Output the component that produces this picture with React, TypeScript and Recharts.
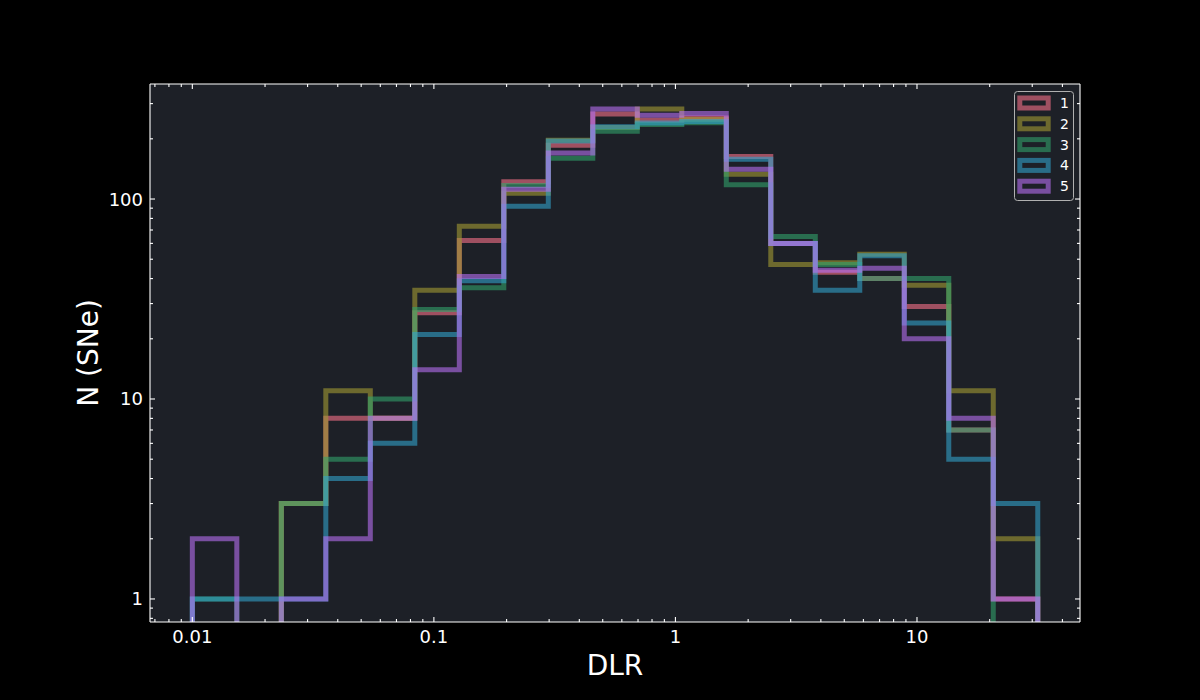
import React from 'react';
import { LineChart, Line, XAxis, YAxis, CartesianGrid, Legend, Label } from 'recharts';

// log-spaced bin edges, 0.01 .. 31.6
const binEdges = [
  0.01, 0.015283, 0.023357, 0.035697, 0.054556, 0.083377, 0.12743, 0.19475, 0.29764, 0.45489,
  0.69519, 1.0625, 1.6238, 2.4817, 3.7927, 5.7964, 8.8587, 13.539, 20.691, 31.623,
];

// counts per bin for each group
const group1 = [0, 0, 3, 8, 8, 27, 62, 122, 186, 266, 248, 254, 163, 60, 43, 40, 29, 7, 1];
const group2 = [0, 0, 3, 11, 8, 35, 73, 107, 197, 228, 282, 250, 133, 47, 48, 53, 37, 11, 2];
const group3 = [1, 0, 3, 5, 10, 28, 36, 117, 160, 218, 236, 241, 118, 65, 47, 40, 40, 7, 0];
const group4 = [1, 1, 1, 4, 6, 21, 39, 92, 195, 230, 240, 244, 158, 60, 35, 52, 24, 5, 3];
const group5 = [2, 0, 1, 2, 8, 14, 41, 112, 170, 282, 262, 268, 141, 60, 44, 45, 20, 8, 1];

const groupNames = ['1', '2', '3', '4', '5'];
const groupColors = ['#f77189', '#a39b33', '#32a26b', '#32a2c9', '#b770f1'];

const xMajor = [0.01, 0.1, 1, 10];
const xMinor = [0.007, 0.008, 0.009, 0.02, 0.03, 0.04, 0.05, 0.06, 0.07, 0.08, 0.09,
  0.2, 0.3, 0.4, 0.5, 0.6, 0.7, 0.8, 0.9, 2, 3, 4, 5, 6, 7, 8, 9, 20, 30, 40];
const yMajor = [1, 10, 100];
const yMinor = [0.8, 0.9, 2, 3, 4, 5, 6, 7, 8, 9, 20, 30, 40, 50, 60, 70, 80, 90, 200, 300];

const xDomain = [0.00668, 47.3];
const yDomain = [0.767, 376];

// empty bins go below the visible range so the outline drops out of the frame
const EMPTY = 0.1;

const groups = [group1, group2, group3, group4, group5];
const keys = groupNames.map((n) => 'g' + n);

const makeRow = (x: number, pick: (g: number[]) => number) => {
  const row: any = { x };
  groups.forEach((g, i) => {
    const v = pick(g);
    row[keys[i]] = v > 0 ? v : EMPTY;
  });
  return row;
};

const rows: any[] = [];
rows.push(makeRow(binEdges[0], () => 0));
for (let k = 0; k < binEdges.length - 1; k++) {
  rows.push(makeRow(binEdges[k], (g) => g[k]));
}
rows.push(makeRow(binEdges[binEdges.length - 1], (g) => g[g.length - 1]));
rows.push(makeRow(binEdges[binEdges.length - 1], () => 0));

const FONT = '"DejaVu Sans", sans-serif';
const WHITE = '#ffffff';
const BG = '#1d2027';

const xTicks = [...xMajor, ...xMinor].sort((a, b) => a - b);
const yTicks = [...yMajor, ...yMinor].sort((a, b) => a - b);

const tickLen = (v: number, major: number[]) => (major.includes(v) ? 5 : 3);

const BottomTick = ({ x, y, payload }: any) => {
  const v = payload.value;
  return (
    <g>
      <line x1={x} x2={x} y1={y} y2={y - tickLen(v, xMajor)} stroke={WHITE} strokeWidth={1.1} />
      {xMajor.includes(v) && (
        <text x={x} y={y + 21} textAnchor="middle" fontSize={18} fontFamily={FONT} fill={WHITE}>
          {String(v)}
        </text>
      )}
    </g>
  );
};

const TopTick = ({ x, y, payload }: any) => (
  <line x1={x} x2={x} y1={y} y2={y + tickLen(payload.value, xMajor)} stroke={WHITE} strokeWidth={1.1} />
);

const LeftTick = ({ x, y, payload }: any) => {
  const v = payload.value;
  return (
    <g>
      <line x1={x} x2={x + tickLen(v, yMajor)} y1={y} y2={y} stroke={WHITE} strokeWidth={1.1} />
      {yMajor.includes(v) && (
        <text x={x - 7} y={y + 6.5} textAnchor="end" fontSize={18} fontFamily={FONT} fill={WHITE}>
          {String(v)}
        </text>
      )}
    </g>
  );
};

const RightTick = ({ x, y, payload }: any) => (
  <line x1={x} x2={x - tickLen(payload.value, yMajor)} y1={y} y2={y} stroke={WHITE} strokeWidth={1.1} />
);

const LegendBox = () => (
  <svg width={60} height={110} style={{ display: 'block' }}>
    <rect x={0.5} y={0.5} width={59} height={109} rx={3} fill={BG} stroke="#b0b0b0" strokeWidth={1} />
    {groupNames.map((n, i) => (
      <g key={n}>
        <rect x={5.8} y={7 + i * 20.8} width={28.4} height={10} fill="none"
          stroke={groupColors[i]} strokeOpacity={0.6} strokeWidth={5} />
        <text x={46} y={17 + i * 20.8} fontSize={14} fontFamily={FONT} fill={WHITE}>{n}</text>
      </g>
    ))}
  </svg>
);

export default function App() {
  return (
    <div style={{ position: 'absolute', left: 0, top: 0, width: 1200, height: 700, background: '#000' }}>
      <LineChart width={1200} height={700} data={rows} margin={{ top: 83, right: 119, bottom: 48, left: 90 }}>
        <CartesianGrid horizontal={false} vertical={false} fill={BG} />
        <XAxis dataKey="x" type="number" scale="log" domain={xDomain} allowDataOverflow
          ticks={xTicks} interval={0} tick={<BottomTick />} tickLine={false} tickSize={0} tickMargin={0}
          height={30} axisLine={{ stroke: WHITE, strokeWidth: 1.1 }}>
          <Label content={() => (
            <text x={615} y={675} textAnchor="middle" fontSize={28} fontFamily={FONT} fill={WHITE}>DLR</text>
          )} />
        </XAxis>
        <XAxis xAxisId="top" orientation="top" dataKey="x" type="number" scale="log" domain={xDomain}
          allowDataOverflow ticks={xTicks} interval={0} tick={<TopTick />} tickLine={false} tickSize={0}
          tickMargin={0} height={1} axisLine={{ stroke: WHITE, strokeWidth: 1.1 }} />
        <YAxis type="number" scale="log" domain={yDomain} allowDataOverflow ticks={yTicks} interval={0}
          tick={<LeftTick />} tickLine={false} tickSize={0} tickMargin={0} width={60}
          axisLine={{ stroke: WHITE, strokeWidth: 1.1 }}>
          <Label content={() => (
            <text x={98} y={353} transform="rotate(-90 98 353)" textAnchor="middle" fontSize={28}
              fontFamily={FONT} fill={WHITE}>N (SNe)</text>
          )} />
        </YAxis>
        <YAxis yAxisId="right" orientation="right" type="number" scale="log" domain={yDomain} allowDataOverflow
          ticks={yTicks} interval={0} tick={<RightTick />} tickLine={false} tickSize={0} tickMargin={0}
          width={1} axisLine={{ stroke: WHITE, strokeWidth: 1.1 }} />
        {keys.map((k, i) => (
          <Line key={k} dataKey={k} name={groupNames[i]} type="stepAfter" stroke={groupColors[i]}
            strokeOpacity={0.6} strokeWidth={5} strokeLinejoin="miter" strokeLinecap="butt"
            dot={false} activeDot={false} isAnimationActive={false} />
        ))}
        <Legend layout="vertical" align="center" verticalAlign="middle"
          wrapperStyle={{ left: 1014, top: 91, width: 60, height: 110 }} content={() => <LegendBox />} />
      </LineChart>
    </div>
  );
}
